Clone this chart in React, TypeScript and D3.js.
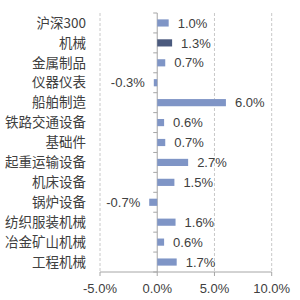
import React from "react";
import * as d3 from "d3";

const categories = ["沪深300", "机械", "金属制品", "仪器仪表", "船舶制造", "铁路交通设备", "基础件", "起重运输设备", "机床设备", "锅炉设备", "纺织服装机械", "冶金矿山机械", "工程机械"];
const values = [1.0, 1.3, 0.7, -0.3, 6.0, 0.6, 0.7, 2.7, 1.5, -0.7, 1.6, 0.6, 1.7];
const highlighted = ["机械"];
const xTicks = [-5, 0, 5, 10];

const W = 300, H = 300;
const left = 100, right = 271.7, top = 13, bottom = 272;

export default function App() {
  const x = d3.scaleLinear().domain([-5, 10]).range([left, right]);
  const y = d3.scaleBand<string>().domain(categories).range([top, bottom]).paddingInner(0.64).paddingOuter(0.32);
  const band = (bottom - top) / categories.length;
  const fmt = (v: number) => v.toFixed(1) + "%";
  const numFont = "'Liberation Sans', Arial, sans-serif";
  const cjkFont = "'Noto Sans CJK SC', sans-serif";
  return (
    <svg width={W} height={H} style={{ position: "absolute", left: 0, top: 0, background: "#fff" }}>
      {xTicks.filter(t => t !== 0).map(t => (
        <line key={"g" + t} x1={x(t)} x2={x(t)} y1={top} y2={bottom} stroke="#c8c8c8" strokeWidth={1} strokeDasharray="3,2" />
      ))}
      <line x1={left} x2={right} y1={bottom} y2={bottom} stroke="#a6a6a6" />
      {xTicks.map(t => (
        <g key={"t" + t}>
          <line x1={x(t)} x2={x(t)} y1={bottom} y2={bottom + 4} stroke="#a6a6a6" />
          <text x={x(t)} y={bottom + 21} textAnchor="middle" fontFamily={numFont} fontSize={13} fill="#404040">{fmt(t)}</text>
        </g>
      ))}
      <line x1={x(0)} x2={x(0)} y1={top} y2={bottom} stroke="#a6a6a6" />
      {d3.range(categories.length + 1).map(i => (
        <line key={"yt" + i} x1={x(0) - 4} x2={x(0)} y1={top + i * band} y2={top + i * band} stroke="#a6a6a6" />
      ))}
      {categories.map((c, i) => {
        const v = values[i];
        const yy = y(c)!;
        const x0 = x(Math.min(0, v));
        const w = Math.abs(x(v) - x(0));
        const cy = yy + y.bandwidth() / 2;
        return (
          <g key={c}>
            <rect x={x0} y={yy} width={w} height={y.bandwidth()} fill={highlighted.includes(c) ? "#4b5a7e" : "#7f95c6"} />
            <text x={86} y={cy} dy="0.35em" textAnchor="end" fontFamily={cjkFont} fontSize={13.5} fill="#404040">{c}</text>
            <text x={v >= 0 ? x(v) + 9 : x(v) - 9} y={cy} dy="0.36em" textAnchor={v >= 0 ? "start" : "end"} fontFamily={numFont} fontSize={13} fill="#404040">{fmt(v)}</text>
          </g>
        );
      })}
    </svg>
  );
}
